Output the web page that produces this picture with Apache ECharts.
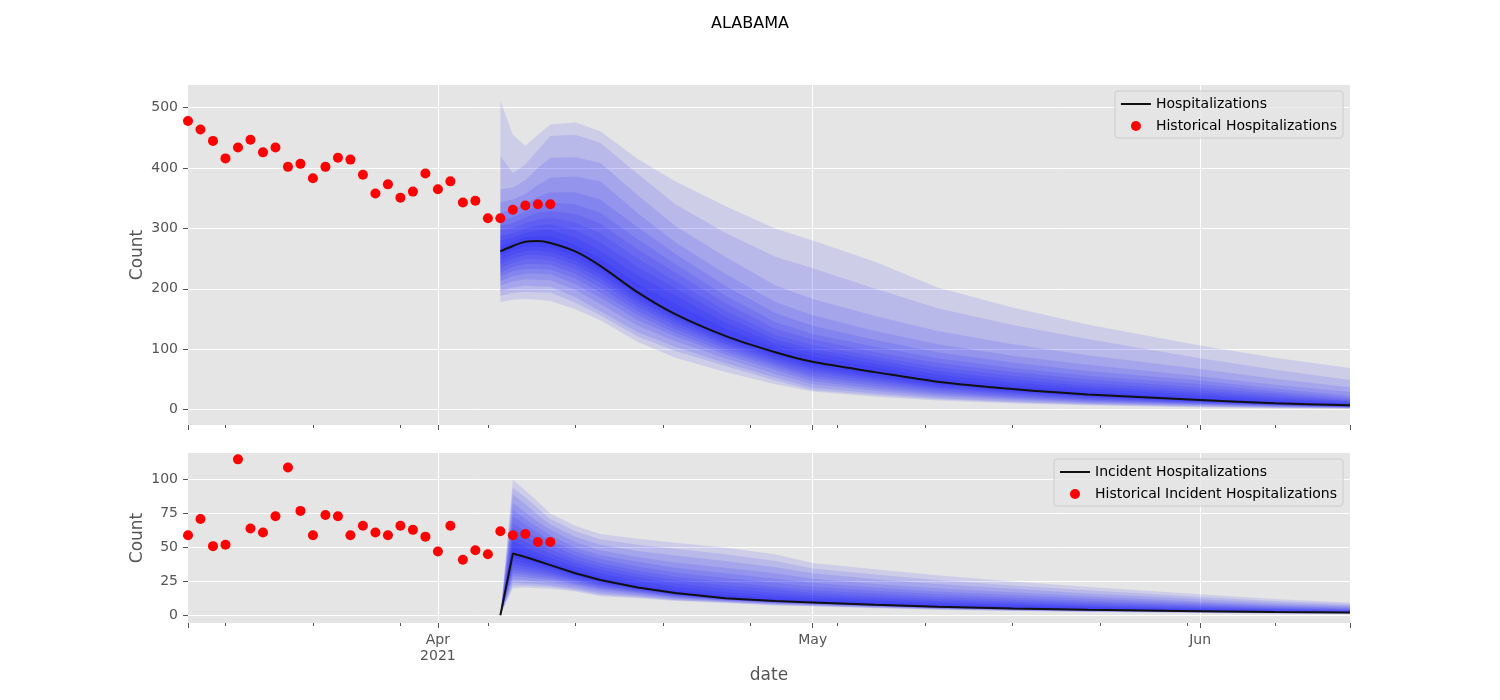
<!DOCTYPE html>
<html>
<head>
<meta charset="utf-8">
<script src="https://cdn.jsdelivr.net/npm/echarts@6.0.0/dist/echarts.min.js"></script>
<style>
html,body{margin:0;padding:0;background:#fff}
#main{width:1500px;height:700px}
</style>
</head>
<body>
<div id="main"></div>
<script>
// x axis: one category per day, Mar 12 .. Jun 13 2021
var firstDay = [2021, 2, 12];
var dayCount = 94;
var monthTicks = ['2021-04-01', '2021-05-01', '2021-06-01'];
var monthLabels = ['Apr\n2021', 'May', 'Jun'];
var weekTicks = ['2021-03-15', '2021-03-22', '2021-03-29', '2021-04-05', '2021-04-12', '2021-04-19',
  '2021-04-26', '2021-05-03', '2021-05-10', '2021-05-17', '2021-05-24', '2021-05-31', '2021-06-07'];
var hospTicks = [0, 100, 200, 300, 400, 500];
var incTicks = [0, 25, 50, 75, 100];

// historical points, one per day from Mar 12
var histHosp = [478, 464, 445, 416, 434, 447, 426, 434, 402, 407, 383, 402, 417, 414, 389,
  358, 373, 351, 361, 391, 365, 378, 343, 346, 317, 317, 331, 338, 340, 340];
var histInc = [59, 71, 51, 52, 115, 64, 61, 73, 109, 77, 59, 74, 73, 59, 66,
  61, 59, 66, 63, 58, 47, 66, 41, 48, 45, 62, 59, 60, 54, 54];

// forecast read at these dates
var fcDates = ['2021-04-06', '2021-04-07', '2021-04-08', '2021-04-09', '2021-04-10', '2021-04-12',
  '2021-04-14', '2021-04-17', '2021-04-20', '2021-04-24', '2021-04-28', '2021-05-01', '2021-05-06',
  '2021-05-11', '2021-05-17', '2021-05-23', '2021-06-01', '2021-06-07', '2021-06-13'];

// Hospitalizations quantiles
var hospMedian = [262, 271, 278, 279, 276, 262, 238, 194, 158, 122, 95, 79, 62, 46, 34, 25, 16, 10.5, 7];
var hospQ99  = [512, 455, 437, 455, 472, 476, 461, 415, 378, 337, 300, 280, 245, 202, 169, 141, 106, 86, 69];
var hospQ975 = [420, 392, 406, 430, 453, 455, 442, 390, 340, 293, 253, 234, 200, 168, 140, 117, 85, 66, 49];
var hospQ95  = [365, 368, 380, 400, 417, 418, 409, 355, 304, 253, 206, 183, 155, 130, 108, 90, 67, 51, 37];
var hospQ90  = [343, 348, 357, 372, 384, 386, 378, 325, 277, 225, 178, 156, 130, 108, 89, 74, 55, 41, 29];
var hospQ85  = [326, 332, 341, 352, 360, 360, 348, 302, 258, 205, 160, 139, 115, 95, 78, 64, 48, 35, 23];
var hospQ80  = [313, 319, 328, 337, 343, 340, 326, 282, 241, 189, 145, 125, 104, 85, 69, 56, 42, 30, 19];
var hospQ75  = [304, 309, 318, 326, 329, 324, 308, 265, 227, 176, 134, 116, 95, 77, 62, 50, 36, 26, 16];
var hospQ70  = [296, 300, 309, 315, 318, 310, 292, 250, 213, 164, 124, 107, 88, 70, 56, 44, 32, 22, 14];
var hospQ65  = [288, 292, 300, 305, 307, 297, 277, 236, 201, 154, 116, 100, 82, 64, 50, 39, 28, 19, 12];
var hospQ60  = [280, 285, 293, 296, 298, 285, 263, 222, 189, 144, 109, 95, 76, 58, 45, 35, 24, 16, 10.5];
var hospQ55  = [271, 278, 286, 287, 288, 273, 250, 208, 175, 134, 102, 88, 70, 52, 40, 30, 20, 13, 9];
var hospQ45  = [255, 264, 270, 270, 268, 254, 231, 188, 153, 118, 90, 73, 57, 42, 31, 22, 14, 9, 6];
var hospQ40  = [248, 257, 263, 263, 261, 247, 224, 182, 149, 114, 86, 69, 53, 39, 29, 21, 13, 8.5, 5.5];
var hospQ35  = [241, 250, 256, 256, 254, 240, 217, 176, 144, 110, 82, 65, 50, 36, 27, 19, 12, 8, 5];
var hospQ30  = [234, 243, 249, 249, 247, 233, 210, 170, 139, 106, 78, 61, 47, 34, 25, 17, 11, 7, 4.5];
var hospQ25  = [227, 236, 241, 241, 240, 225, 202, 163, 133, 101, 74, 56, 43, 31, 22, 16, 10, 6.5, 4];
var hospQ20  = [221, 229, 233, 233, 232, 217, 194, 156, 127, 96, 70, 52, 39, 28, 20, 14, 9, 6, 3.7];
var hospQ15  = [213, 221, 225, 225, 224, 208, 185, 148, 121, 91, 65, 47, 35, 25, 18, 12, 8, 5, 3.3];
var hospQ10  = [205, 212, 216, 215, 214, 198, 175, 139, 113, 85, 59, 42, 31, 22, 16, 11, 7, 4.5, 2.8];
var hospQ05  = [196, 202, 205, 204, 204, 186, 163, 128, 104, 77, 53, 36, 27, 19, 13, 9, 5.5, 3.5, 2.2];
var hospQ025 = [188, 193, 195, 194, 194, 177, 156, 121, 97, 72, 48, 32, 24, 17, 12, 8, 4.5, 3, 1.8];
var hospQ01  = [178, 182, 183, 182, 180, 166, 148, 112, 86, 62, 42, 30, 21, 15, 10, 7, 3.5, 2, 1.3];

// Incident Hospitalizations quantiles
var incMedian = [0, 45.5, 43, 40, 37, 31, 26, 20.5, 16.5, 12.5, 10.5, 9.5, 7.7, 6.3, 5, 4, 3, 2.4, 2];
var incQ99  = [0, 100, 92, 84, 75, 66, 60, 56.5, 53.5, 50, 45, 38.5, 34, 29.5, 25, 21, 15.5, 12, 9.5];
var incQ975 = [0, 94, 87, 79, 71, 62, 56, 52, 49, 45, 40, 34.5, 30, 26, 22, 18.5, 13.5, 10.5, 8.3];
var incQ95  = [0, 89, 82, 74, 67, 58, 52, 47.5, 44, 40, 35.5, 31, 26.5, 23, 19.5, 16, 11.8, 9.2, 7.3];
var incQ90  = [0, 83, 76, 69, 63, 54, 48, 43, 39, 35, 31, 27, 23, 20, 17, 14, 10.2, 8, 6.4];
var incQ85  = [0, 78, 71, 65, 59, 50, 44.5, 39.5, 35, 31, 27, 24, 20.5, 17.5, 15, 12.3, 9, 7, 5.6];
var incQ80  = [0, 73, 67, 61, 55, 47, 41.5, 36, 31.5, 27.5, 24, 21, 18, 15.5, 13, 10.8, 8, 6.2, 4.9];
var incQ75  = [0, 68, 62, 57, 52, 44, 38.5, 33, 28.5, 24.5, 21, 18.5, 16, 13.5, 11.5, 9.5, 7, 5.4, 4.3];
var incQ70  = [0, 64, 58, 53, 48.5, 41, 36, 30.5, 26, 22, 19, 16.5, 14, 12, 10, 8.3, 6.2, 4.8, 3.8];
var incQ65  = [0, 59, 54, 49.5, 45.5, 38.5, 33.5, 28, 23.5, 19.5, 16.5, 14.5, 12.5, 10.5, 8.8, 7.3, 5.4, 4.2, 3.4];
var incQ60  = [0, 55, 50, 46, 42.5, 36, 31, 25.5, 21, 17, 14.5, 12.8, 11, 9.2, 7.7, 6.4, 4.7, 3.7, 3];
var incQ55  = [0, 50.5, 46.5, 43, 39.5, 33.5, 28.5, 23, 18.5, 15, 12.5, 11, 9.5, 8, 6.6, 5.5, 4, 3.2, 2.6];
var incQ45  = [0, 42.5, 40.5, 38, 35.5, 29.5, 25, 20, 16, 12.3, 10.35, 9.35, 7.6, 6.2, 4.9, 3.92, 2.94, 2.36, 1.96];
var incQ40  = [0, 40, 38, 36, 34, 28.5, 24, 19.4, 15.5, 12.1, 10.2, 9.2, 7.45, 6.1, 4.8, 3.85, 2.88, 2.32, 1.92];
var incQ35  = [0, 37.5, 36, 34, 32, 27, 23, 18.8, 15, 11.9, 10, 9, 7.3, 5.95, 4.7, 3.75, 2.8, 2.25, 1.86];
var incQ30  = [0, 35, 34, 32, 30.5, 26, 22, 18.2, 14.5, 11.6, 9.8, 8.8, 7.15, 5.8, 4.6, 3.65, 2.7, 2.17, 1.8];
var incQ25  = [0, 33, 32, 30.5, 29, 25, 21, 17.5, 14, 11.3, 9.5, 8.6, 6.95, 5.65, 4.45, 3.55, 2.6, 2.08, 1.72];
var incQ20  = [0, 31, 30, 28.5, 27.5, 23.5, 20, 16.8, 13.5, 11, 9.2, 8.3, 6.7, 5.45, 4.3, 3.4, 2.5, 1.98, 1.63];
var incQ15  = [0, 29, 28, 27, 26, 22.5, 19, 16, 12.9, 10.7, 8.9, 8, 6.5, 5.2, 4.1, 3.25, 2.35, 1.85, 1.52];
var incQ10  = [0, 26.5, 26, 25, 24, 21, 17.5, 15, 12.2, 10.3, 8.5, 7.6, 6.2, 4.95, 3.9, 3.05, 2.2, 1.7, 1.38];
var incQ05  = [0, 24, 23.5, 23, 22, 19.5, 16, 14, 11.5, 9.8, 8, 7.2, 5.8, 4.6, 3.6, 2.8, 2, 1.5, 1.2];
var incQ025 = [0, 22, 22, 21.5, 21, 18.5, 15, 13.3, 11, 9.4, 7.6, 6.8, 5.5, 4.35, 3.35, 2.6, 1.8, 1.35, 1.05];
var incQ01  = [0, 20, 20.5, 20, 19.5, 17.5, 14, 12.5, 10.5, 9, 7.3, 6.5, 5.2, 4.1, 3.1, 2.4, 1.6, 1.2, 0.9];

var FONT = 'DejaVu Sans';
var GREY = '#555555';

var days = [];
for (var i = 0; i < dayCount; i++) {
  days.push(new Date(Date.UTC(firstDay[0], firstDay[1], firstDay[2] + i)).toISOString().slice(0, 10));
}
var fcIdx = fcDates.map(function (d) { return days.indexOf(d); });

// band k = (lower[k], upper[k]), outermost first
var hospLowers = [hospQ01, hospQ025, hospQ05, hospQ10, hospQ15, hospQ20, hospQ25, hospQ30, hospQ35, hospQ40, hospQ45];
var hospUppers = [hospQ99, hospQ975, hospQ95, hospQ90, hospQ85, hospQ80, hospQ75, hospQ70, hospQ65, hospQ60, hospQ55];
var incLowers = [incQ01, incQ025, incQ05, incQ10, incQ15, incQ20, incQ25, incQ30, incQ35, incQ40, incQ45];
var incUppers = [incQ99, incQ975, incQ95, incQ90, incQ85, incQ80, incQ75, incQ70, incQ65, incQ60, incQ55];

function pairs(idx, vals) {
  return vals.map(function (v, i) { return [idx[i], v]; });
}
var histIdx = histHosp.map(function (v, i) { return i; });

function isMonth(i, v) { return monthTicks.indexOf(v) >= 0; }
function isMajor(i, v) { return isMonth(i, v) || i === 0 || i === dayCount - 1; }
function isWeek(i, v) { return weekTicks.indexOf(v) >= 0; }

function fan(gi, lowers, uppers) {
  return {
    type: 'custom', xAxisIndex: gi * 2, yAxisIndex: gi, silent: true, z: 1,
    data: lowers.map(function (l, k) { return [fcIdx[0], 0, k]; }),
    encode: {x: 0, y: 1},
    renderItem: function (params, api) {
      var k = api.value(2);
      var pts = [];
      for (var a = 0; a < fcIdx.length; a++) pts.push(api.coord([fcIdx[a], uppers[k][a]]));
      for (var b = fcIdx.length - 1; b >= 0; b--) pts.push(api.coord([fcIdx[b], lowers[k][b]]));
      return {type: 'polygon', shape: {points: pts}, style: {fill: 'rgba(0,0,255,0.1)'}};
    }
  };
}

function majorX(gi, withLabels) {
  return {
    gridIndex: gi, type: 'category', data: days, boundaryGap: false, position: 'bottom',
    axisLine: {show: false, onZero: false},
    axisTick: {show: true, interval: isMajor, length: 5, lineStyle: {color: GREY, width: 1}},
    axisLabel: {
      show: withLabels, interval: isMonth, margin: 9, color: GREY, fontFamily: FONT, fontSize: 14, lineHeight: 16,
      formatter: function (v) { var m = monthTicks.indexOf(v); return m >= 0 ? monthLabels[m] : ''; }
    },
    splitLine: {show: true, interval: isMonth, lineStyle: {color: '#ffffff', width: 1}},
    name: withLabels ? 'date' : '', nameLocation: 'middle', nameGap: 44, nameMoveOverlap: false,
    nameTextStyle: {color: GREY, fontFamily: FONT, fontSize: 17}
  };
}
function minorX(gi) {
  return {
    gridIndex: gi, type: 'category', data: days, boundaryGap: false, position: 'bottom',
    axisLine: {show: false, onZero: false},
    axisTick: {show: true, interval: isWeek, length: 3, lineStyle: {color: GREY, width: 1}},
    axisLabel: {show: false}, splitLine: {show: false}
  };
}
function valueY(gi, lo, hi, ticks) {
  return {
    gridIndex: gi, type: 'value', min: lo, max: hi,
    axisLine: {show: false},
    axisTick: {show: true, customValues: ticks, length: 5, lineStyle: {color: GREY, width: 1}},
    axisLabel: {customValues: ticks, margin: 10, color: GREY, fontFamily: FONT, fontSize: 14},
    splitLine: {show: true, lineStyle: {color: '#ffffff', width: 1}},
    name: 'Count', nameLocation: 'middle', nameGap: 42, nameRotate: 90, nameMoveOverlap: false,
    nameTextStyle: {color: GREY, fontFamily: FONT, fontSize: 17}
  };
}
function legendBox(top, names) {
  return {
    orient: 'vertical', right: 157, top: top, selectedMode: false,
    backgroundColor: 'rgba(229,229,229,0.8)', borderColor: '#cccccc', borderWidth: 1, borderRadius: 3,
    padding: [6, 6, 5, 5], itemGap: 8, itemWidth: 30, itemHeight: 10,
    textStyle: {color: '#000', fontFamily: FONT, fontSize: 14},
    data: [
      {name: names[0], itemStyle: {color: 'rgba(0,0,0,0)', borderWidth: 0, opacity: 0}},
      {name: names[1], icon: 'circle'}
    ]
  };
}

var chart = echarts.init(document.getElementById('main'));
chart.setOption({
  animation: false,
  backgroundColor: '#ffffff',
  title: {text: 'ALABAMA', left: 'center', top: 11,
    textStyle: {color: '#000', fontFamily: FONT, fontSize: 16, fontWeight: 'normal'}},
  grid: [
    {left: 188, top: 85, width: 1162, height: 340, show: true, backgroundColor: '#E5E5E5', borderWidth: 0, outerBoundsMode: 'none'},
    {left: 188, top: 453, width: 1162, height: 170, show: true, backgroundColor: '#E5E5E5', borderWidth: 0, outerBoundsMode: 'none'}
  ],
  legend: [
    legendBox(91, ['Hospitalizations', 'Historical Hospitalizations']),
    legendBox(459, ['Incident Hospitalizations', 'Historical Incident Hospitalizations'])
  ],
  xAxis: [majorX(0, false), minorX(0), majorX(1, true), minorX(1)],
  yAxis: [valueY(0, -25.6, 537.6, hospTicks), valueY(1, -5.7, 119.7, incTicks)],
  series: [
    fan(0, hospLowers, hospUppers),
    {name: 'Hospitalizations', type: 'line', xAxisIndex: 0, yAxisIndex: 0, z: 3,
      data: pairs(fcIdx, hospMedian), symbol: 'none', smooth: 0.3,
      lineStyle: {color: '#111111', width: 2}, itemStyle: {color: '#111111'}},
    {name: 'Historical Hospitalizations', type: 'scatter', xAxisIndex: 0, yAxisIndex: 0, z: 4,
      data: pairs(histIdx, histHosp), symbolSize: 10, itemStyle: {color: '#ff0000', opacity: 1}},
    fan(1, incLowers, incUppers),
    {name: 'Incident Hospitalizations', type: 'line', xAxisIndex: 2, yAxisIndex: 1, z: 3,
      data: pairs(fcIdx, incMedian), symbol: 'none',
      lineStyle: {color: '#111111', width: 2}, itemStyle: {color: '#111111'}},
    {name: 'Historical Incident Hospitalizations', type: 'scatter', xAxisIndex: 2, yAxisIndex: 1, z: 4,
      data: pairs(histIdx, histInc), symbolSize: 10, itemStyle: {color: '#ff0000', opacity: 1}}
  ]
});
</script>
</body>
</html>
